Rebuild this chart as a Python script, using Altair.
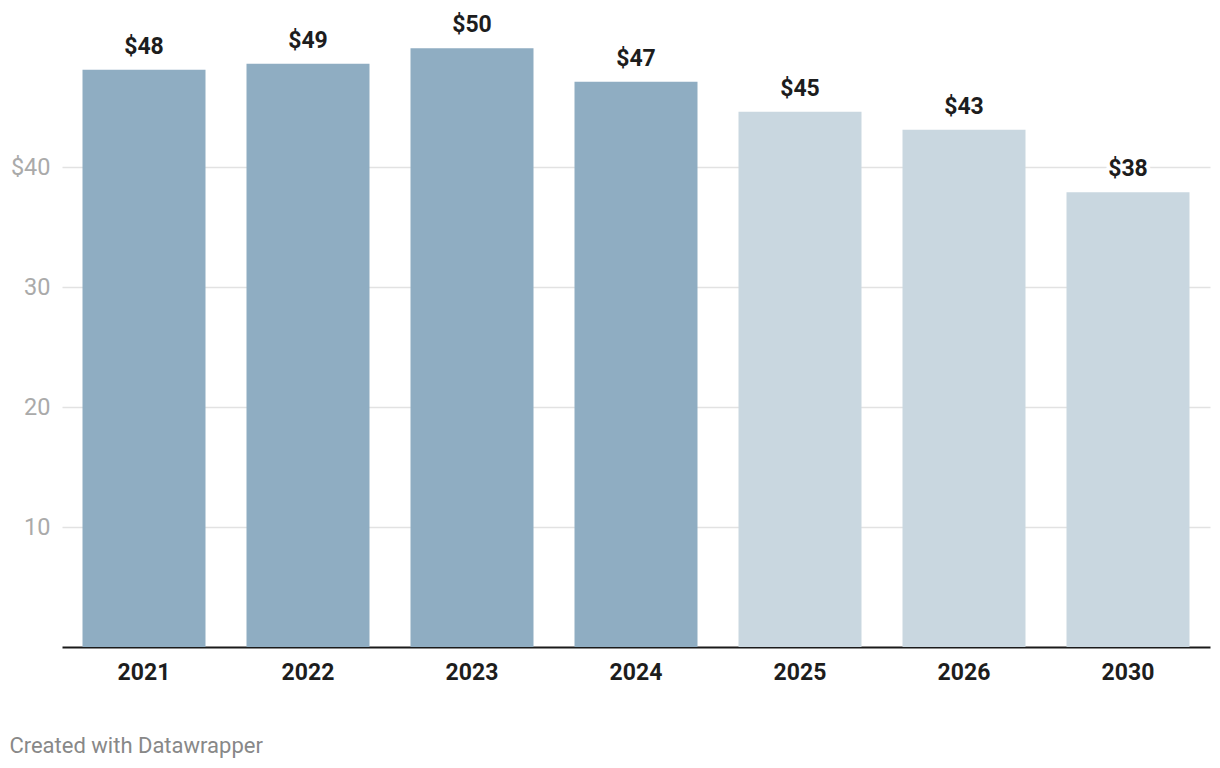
import altair as alt
import pandas as pd

years = ["2021", "2022", "2023", "2024", "2025", "2026", "2030"]
values = [48.1, 48.6, 49.9, 47.1, 44.6, 43.1, 37.9]
kinds = ["actual", "actual", "actual", "actual", "forecast", "forecast", "forecast"]
y_ticks = [10, 20, 30, 40]

df = pd.DataFrame({"year": years, "value": values, "kind": kinds})

FONT = "Roboto"

x_enc = alt.X(
    "year:N",
    sort=years,
    scale=alt.Scale(paddingInner=0.25, paddingOuter=0.125),
    axis=alt.Axis(
        title=None, labelAngle=0, ticks=False, domain=True, domainColor="#1a1a1a",
        domainWidth=2, labelFont=FONT, labelFontSize=23, labelFontWeight="bold",
        labelColor="#1d1d1d", labelPadding=14, grid=False,
    ),
)
y_enc = alt.Y(
    "value:Q",
    scale=alt.Scale(domain=[0, 53.25], nice=False, zero=True),
    axis=alt.Axis(
        title=None, values=y_ticks, ticks=False, domain=False, grid=True,
        gridColor="#e2e2e2", gridWidth=1.5, labelFont=FONT, labelFontSize=23.5,
        labelColor="#aaaaaa", labelPadding=12,
        labelExpr="datum.value == 40 ? '$40' : datum.label",
    ),
)

base = alt.Chart(df)

bars = base.mark_bar().encode(
    x=x_enc,
    y=y_enc,
    color=alt.Color(
        "kind:N",
        scale=alt.Scale(domain=["actual", "forecast"], range=["#8fadc2", "#c9d7e0"]),
        legend=None,
    ),
)

halo = base.mark_text(
    font=FONT, fontSize=23, fontWeight="bold", dy=-16, baseline="alphabetic",
    color="white", stroke="white", strokeWidth=8, strokeJoin="round",
).encode(
    x=alt.X("year:N", sort=years),
    y="value:Q",
    text=alt.Text("value:Q", format="$.0f"),
)

labels = base.mark_text(
    font=FONT, fontSize=23, fontWeight="bold", dy=-16, baseline="alphabetic",
    color="#1d1d1d",
).encode(
    x=alt.X("year:N", sort=years),
    y="value:Q",
    text=alt.Text("value:Q", format="$.0f"),
)

chart = (
    alt.layer(bars, halo, labels)
    .properties(
        width=1148,
        height=639,
        background="white",
        autosize=alt.AutoSizeParams(type="none"),
        padding={"left": 54, "top": 0, "right": 2, "bottom": 113},
        title=alt.TitleParams(
            "Created with Datawrapper",
            orient="bottom", anchor="start", frame="bounds",
            font=FONT, fontSize=22, fontWeight="normal", color="#888888",
            offset=52, dx=-1,
        ),
    )
    .configure_view(strokeWidth=0, stroke="transparent")
)

chart.save("out.html", embed_options={"renderer": "svg", "actions": False})
